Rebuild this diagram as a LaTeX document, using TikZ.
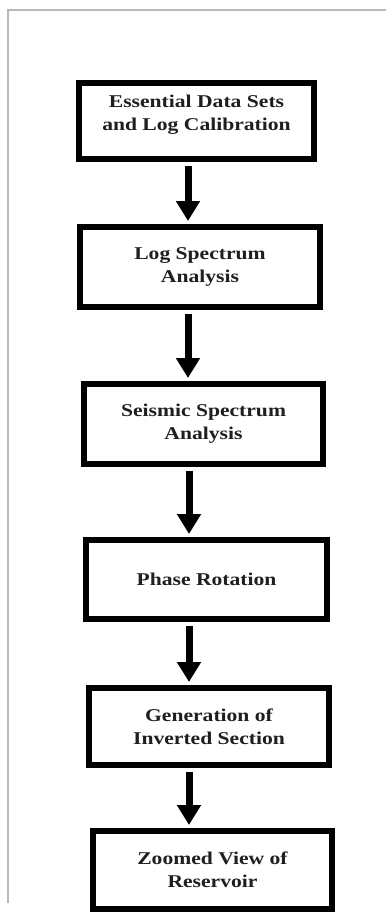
\documentclass[tikz,border=0pt]{standalone}
\usepackage{fontspec}
\newfontfamily\stagefont{Liberation Serif}[FakeStretch=1.2]
\usetikzlibrary{arrows.meta}

\tikzset{
	stage/.style={draw=black, line width=6pt, inner sep=0pt, align=center,
		text=black!88, font=\stagefont\bfseries\fontsize{18}{23}\selectfont},
	flow/.style={line width=7pt, -{Triangle[length=20pt,width=23pt]},
		shorten <=4pt, shorten >=3pt}
}

\begin{document}
\begin{tikzpicture}[x=1pt,y=-1pt]

	\useasboundingbox[fill=white] (0,0) rectangle (386,912);
	\draw[gray!55, line width=1.5pt] (386,10) -- (8,10) -- (8,903);

	\node[stage, minimum width=235pt, minimum height=76pt, text depth=17pt] (data) at (196.5,121) {Essential Data Sets\\and Log Calibration};
	\node[stage, minimum width=240pt, minimum height=80pt] (logspec) at (200,267) {Log Spectrum\\Analysis};
	\node[stage, minimum width=239pt, minimum height=80pt] (seisspec) at (203.5,424) {Seismic Spectrum\\Analysis};
	\node[stage, minimum width=241pt, minimum height=79pt] (phase) at (206.5,579.5) {Phase Rotation};
	\node[stage, minimum width=240pt, minimum height=77pt] (invert) at (209,726.5) {Generation of\\Inverted Section};
	\node[stage, minimum width=239pt, minimum height=78pt] (zoom) at (212.5,870) {Zoomed View of\\Reservoir};

	\draw[flow] (data.south -| 188,0) -- (logspec.north -| 188,0);
	\draw[flow] (logspec.south -| 188,0) -- (seisspec.north -| 188,0);
	\draw[flow] (seisspec.south -| 189,0) -- (phase.north -| 189,0);
	\draw[flow] (phase.south -| 189,0) -- (invert.north -| 189,0);
	\draw[flow] (invert.south -| 189,0) -- (zoom.north -| 189,0);

\end{tikzpicture}
\end{document}
